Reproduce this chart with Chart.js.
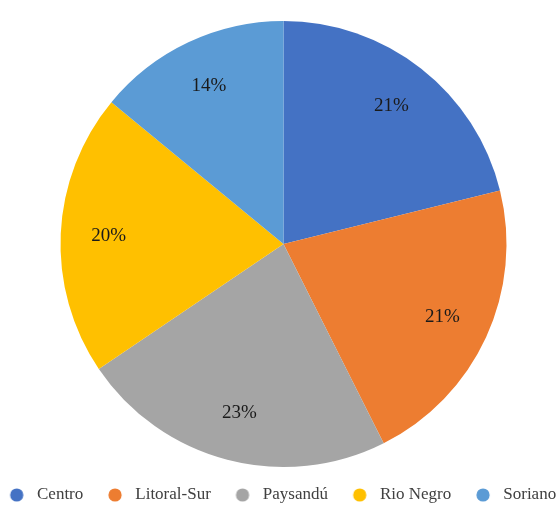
<!DOCTYPE html>
<html>
<head>
<meta charset="utf-8">
<script src="https://cdn.jsdelivr.net/npm/chart.js@4"></script>
<style>
  html, body { margin: 0; padding: 0; background: #fff; }
  #wrap { width: 559px; height: 505px; }
</style>
</head>
<body>
<div id="wrap"><canvas id="pie-chart"></canvas></div>
<script>
// regiones y porcentajes
let regiones = ["Centro", "Litoral-Sur", "Paysandú", "Rio Negro", "Soriano"];
let porcentajes = [21.1, 21.4, 22.9, 20.4, 14.0];
let colores = ["#4472C4", "#ED7D31", "#A5A5A5", "#FFC000", "#5B9BD5"];

let serif = "'Liberation Serif', 'Times New Roman', serif";

// circulito de la leyenda (imagen para pointStyle, corrido a la derecha)
let makeDot = (color) => {
    let c = document.createElement("canvas");
    c.width = 44;
    c.height = 14;
    let g = c.getContext("2d");
    g.fillStyle = color;
    g.beginPath();
    g.arc(32, 7, 6.6, 0, Math.PI * 2);
    g.fill();
    return c;
}
let dots = colores.map((x) => makeDot(x));

// corre el centro de la torta un poco a la derecha
let shiftPie = {
    id: "shiftPie",
    afterLayout(chart) {
        chart.chartArea.left += 8;
        chart.chartArea.width -= 8;
    }
};

// etiquetas de porcentaje dentro de cada porción
let pctLabels = {
    id: "pctLabels",
    afterDatasetsDraw(chart) {
        let ctx = chart.ctx;
        let meta = chart.getDatasetMeta(0);
        let total = porcentajes.reduce((x, y) => x + y, 0);
        ctx.save();
        ctx.font = "19px " + serif;
        ctx.fillStyle = "#1a1a1a";
        ctx.textAlign = "center";
        ctx.textBaseline = "middle";
        meta.data.forEach((arc, i) => {
            let p = arc.getProps(["x", "y", "startAngle", "endAngle", "outerRadius"], true);
            let mid = (p.startAngle + p.endAngle) / 2;
            let r = p.outerRadius * 0.785;
            let txt = Math.round(porcentajes[i] / total * 100) + "%";
            ctx.fillText(txt, p.x + Math.cos(mid) * r, p.y + Math.sin(mid) * r);
        });
        ctx.restore();
    }
};

new Chart(document.getElementById("pie-chart"), {
    type: "pie",
    data: {
        labels: regiones,
        datasets: [{
            data: porcentajes,
            backgroundColor: colores,
            borderWidth: 0,
            radius: 223
        }]
    },
    options: {
        responsive: true,
        maintainAspectRatio: false,
        animation: false,
        layout: { padding: { top: 1.5, left: -15, right: -22, bottom: -8.5 } },
        plugins: {
            tooltip: { enabled: false },
            legend: {
                position: "bottom",
                align: "start",
                labels: {
                    usePointStyle: true,
                    pointStyleWidth: 43.5,
                    boxHeight: 14,
                    padding: 0,
                    color: "#404040",
                    font: { family: serif, size: 17 },
                    generateLabels: (chart) => {
                        let items = Chart.overrides.pie.plugins.legend.labels.generateLabels(chart);
                        return items.map((x, i) => {
                            x.pointStyle = dots[i];
                            return x;
                        });
                    }
                }
            }
        }
    },
    plugins: [shiftPie, pctLabels]
});
</script>
</body>
</html>
